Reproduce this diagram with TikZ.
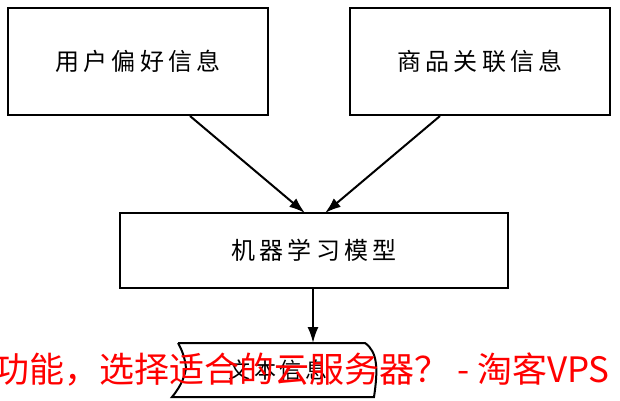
\documentclass[tikz,border=0pt]{standalone}
\usepackage{fontspec}
\usetikzlibrary{arrows.meta}
\newfontfamily\cjk{Noto Sans CJK SC}
\newfontfamily\cjkw[LetterSpace=18]{Noto Sans CJK SC}
\begin{document}
\begin{tikzpicture}[x=1pt,y=-1pt,
  box/.style={draw,line width=2pt,minimum width=#1,inner sep=0pt,font=\cjkw\fontsize{24}{30}\selectfont},
  arr/.style={-{Latex[length=16pt,width=11pt]},line width=2pt}]
\useasboundingbox (0,0) rectangle (620,400);
\node[box=260pt,minimum height=107pt] (a) at (138,61.5) {用户偏好信息};
\node[box=260pt,minimum height=107pt] (b) at (480,61.5) {商品关联信息};
\node[box=388pt,minimum height=75pt] (c) at (314,250.5) {机器学习模型};
\coordinate (dt) at (313,343);
\draw[line width=2pt] (178,343) -- (365,343) .. controls (378,352) and (378,370) .. (374,397)
  -- (172,397) .. controls (182,385) and (185,375) .. (186,368) .. controls (185,358) and (182,350) .. (178,343);
\node[font=\cjkw\fontsize{22}{28}\selectfont] (d) at (278,370) {文本信息};
\draw[arr] (a.south) ++(52,0) coordinate (a1) -- (305,213);
\draw[arr] (b.south) ++(-40,0) coordinate (b1) -- (325,213);
\draw[arr] (c.south -| dt) -- (dt);
\node[anchor=east,text=red,font=\cjk\fontsize{35}{38}\selectfont,inner sep=0pt] (w) at (610,370) {功能，选择适合的云服务器？ - 淘客VPS};
\end{tikzpicture}
\end{document}
